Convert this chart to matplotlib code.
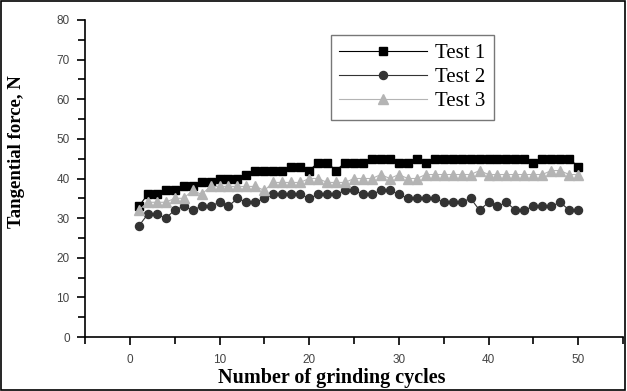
import matplotlib
matplotlib.use("Agg")
import matplotlib.pyplot as plt
from matplotlib.ticker import MultipleLocator
from matplotlib.patches import Rectangle

cycles = list(range(1, 51))
test1 = [33, 36, 36, 37, 37, 38, 38, 39, 39, 40,
         40, 40, 41, 42, 42, 42, 42, 43, 43, 42,
         44, 44, 42, 44, 44, 44, 45, 45, 45, 44,
         44, 45, 44, 45, 45, 45, 45, 45, 45, 45,
         45, 45, 45, 45, 44, 45, 45, 45, 45, 43]
test2 = [28, 31, 31, 30, 32, 33, 32, 33, 33, 34,
         33, 35, 34, 34, 35, 36, 36, 36, 36, 35,
         36, 36, 36, 37, 37, 36, 36, 37, 37, 36,
         35, 35, 35, 35, 34, 34, 34, 35, 32, 34,
         33, 34, 32, 32, 33, 33, 33, 34, 32, 32]
test3 = [32, 34, 34, 34, 35, 35, 37, 36, 38, 38,
         38, 38, 38, 38, 37, 39, 39, 39, 39, 40,
         40, 39, 39, 39, 40, 40, 40, 41, 40, 41,
         40, 40, 41, 41, 41, 41, 41, 41, 42, 41,
         41, 41, 41, 41, 41, 41, 42, 42, 41, 41]
labels = ["Test 1", "Test 2", "Test 3"]
xticks = [0, 10, 20, 30, 40, 50]
yticks = [0, 10, 20, 30, 40, 50, 60, 70, 80]

fig = plt.figure(figsize=(6.27, 3.91), dpi=100)
ax = fig.add_axes([85/627, 1-337/391, (623-85)/627, (337-20)/391])

ax.plot(cycles, test1, color="black", lw=0.8, marker="s", ms=5.8,
        mfc="black", mec="black", label=labels[0])
ax.plot(cycles, test2, color="#333333", lw=0.8, marker="o", ms=5.8,
        mfc="#333333", mec="#333333", label=labels[1])
ax.plot(cycles, test3, color="#b4b4b4", lw=0.8, marker="^", ms=6.8,
        mfc="#b4b4b4", mec="#b4b4b4", label=labels[2])

ax.set_xlim(-5, 55)
ax.set_ylim(0, 80)
ax.set_xticks(xticks)
ax.set_yticks(yticks)
ax.xaxis.set_minor_locator(MultipleLocator(5))
ax.yaxis.set_minor_locator(MultipleLocator(5))
ax.tick_params(which="both", direction="out", width=1.2, colors="black",
               labelcolor="#444444", labelsize=8.5)
ax.tick_params(which="major", length=6)
ax.tick_params(which="minor", length=5)
ax.tick_params(axis="y", pad=5)
ax.tick_params(axis="x", pad=6)
for lab in ax.get_xticklabels() + ax.get_yticklabels():
    lab.set_family("Liberation Sans")

for s in ["top", "right"]:
    ax.spines[s].set_visible(False)
for s in ["left", "bottom"]:
    ax.spines[s].set_linewidth(1.2)

leg = ax.legend(loc="upper left", bbox_to_anchor=((331-85)/538, (337-35)/317),
                prop={"family": "Liberation Serif", "size": 15},
                frameon=True, fancybox=False, edgecolor="#555555",
                handlelength=4.2, borderpad=0.4, labelspacing=0.22,
                handletextpad=0.4, borderaxespad=0)
leg.get_frame().set_linewidth(1.0)

fig.text(17/627, 1-152/391, "Tangential force, N", rotation=90,
         ha="center", va="center", family="Liberation Serif",
         fontweight="bold", fontsize=13.5)
fig.text(332/627, 1-378/391, "Number of grinding cycles",
         ha="center", va="center", family="Liberation Serif",
         fontweight="bold", fontsize=14.5)

fig.patches.append(Rectangle((0.002, 0.003), 0.995, 0.994, transform=fig.transFigure,
                             fill=False, edgecolor="black", lw=1.2))

fig.savefig("out.png", dpi=100)
